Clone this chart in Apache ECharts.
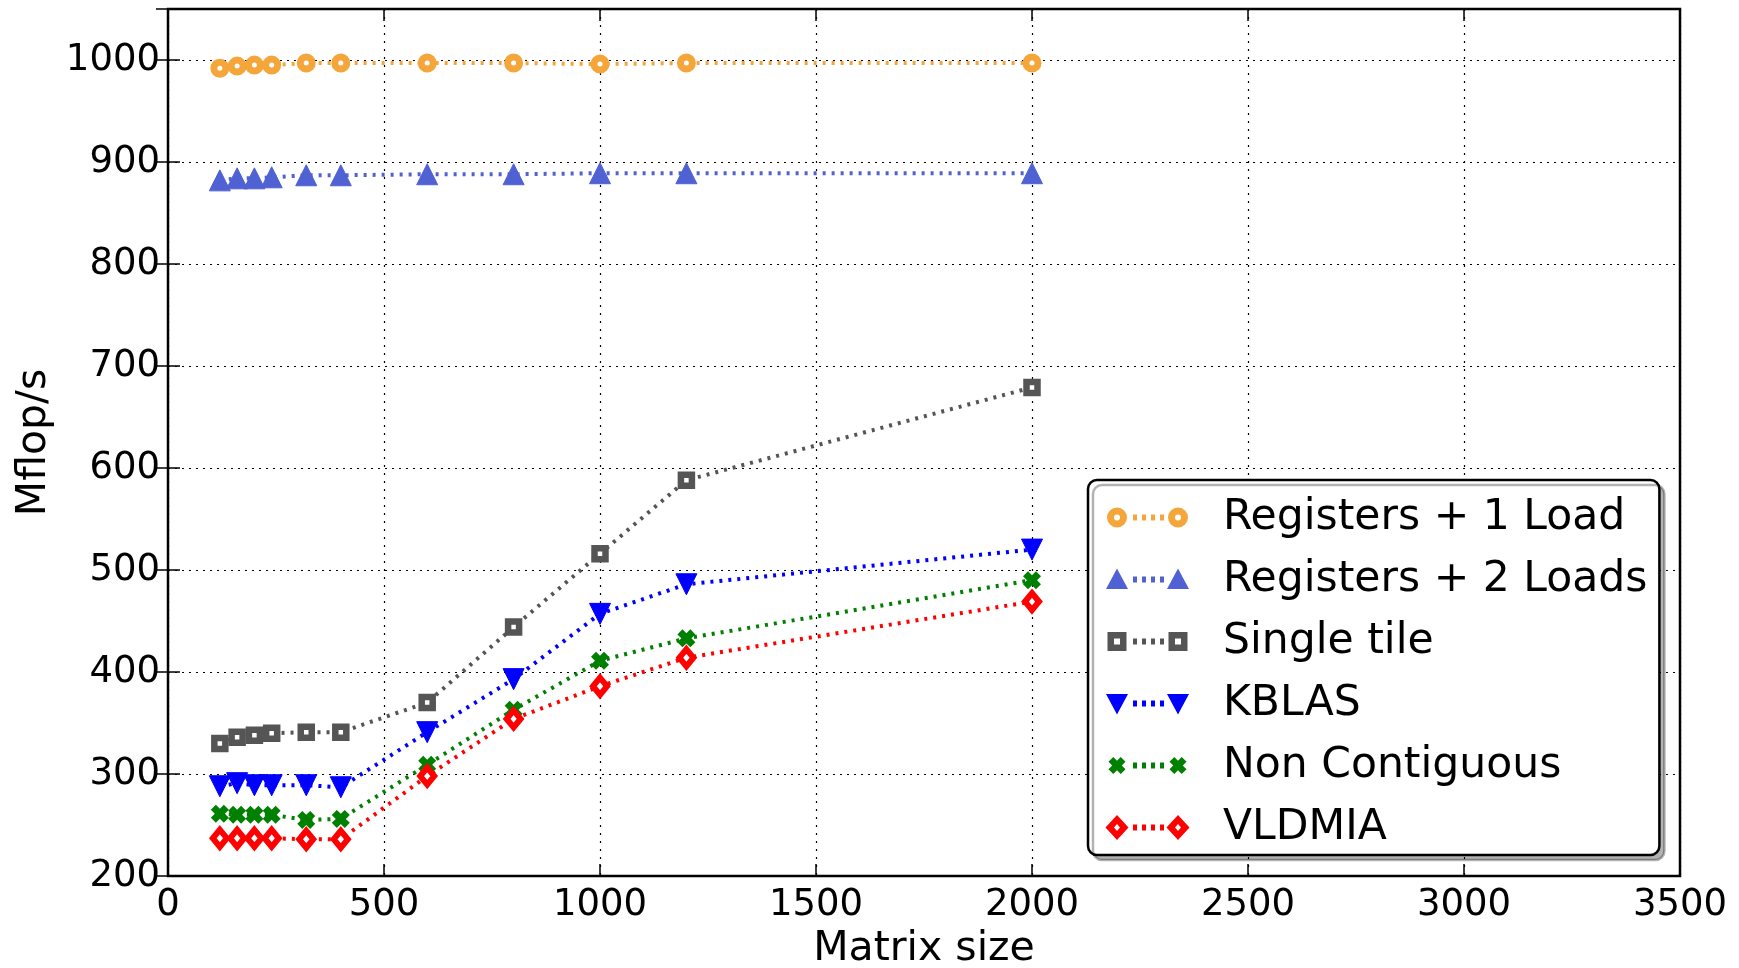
<!DOCTYPE html>
<html>
<head>
<meta charset="utf-8">
<script src="https://cdn.jsdelivr.net/npm/echarts@6/dist/echarts.min.js"></script>
<style>
html,body{margin:0;padding:0;background:#fff;}
#chart{width:1739px;height:968px;}
</style>
</head>
<body>
<div id="chart"></div>
<script>
const matrixSizes = [120, 160, 200, 240, 320, 400, 600, 800, 1000, 1200, 2000];
const registers1Load = [992, 994, 995, 995, 997, 997, 997, 997, 996, 997, 997];
const registers2Loads = [882, 884, 884, 885, 887, 887, 888, 888, 889, 889, 889];
const singleTile = [330, 336, 338, 340, 341, 341, 370, 444, 516, 588, 679];
const kblas = [288, 291, 289, 289, 289, 287, 341, 393, 457, 486, 520];
const nonContiguous = [261, 260, 260, 260, 255, 256, 309, 363, 411, 433, 490];
const vldmia = [237, 237, 237, 237, 236, 236, 298, 354, 386, 414, 469];
const seriesNames = ['Registers + 1 Load', 'Registers + 2 Loads', 'Single tile', 'KBLAS', 'Non Contiguous', 'VLDMIA'];
const colors = ['#F5A63A', '#5061D4', '#555555', '#0000FF', '#008000', '#FF0000'];

const FONT = 'DejaVu Sans';
const pairs = arr => matrixSizes.map((x, i) => [x, arr[i]]);
const xPath = 'path://M0,2.8 L2.8,0 L5,2.2 L7.2,0 L10,2.8 L7.8,5 L10,7.2 L7.2,10 L5,7.8 L2.8,10 L0,7.2 L2.2,5 Z';

// ---- legend icon shapes (two markers joined by a dotted line) ----
const IW = 86, IH = 26, CY = 13, L = 12, R = 73;
const corners = `M0,0 L0.01,0 L0,0.01 Z M${IW},${IH} L${IW - 0.01},${IH} L${IW},${IH - 0.01} Z `;
const dashes = [28, 37, 46, 55].map(x => `M${x},${CY - 3} L${x + 4},${CY - 3} L${x + 4},${CY + 3} L${x},${CY + 3} Z`).join(' ');
function ring(cx, ro, ri) {
  return `M${cx - ro},${CY} A${ro},${ro} 0 1,0 ${cx + ro},${CY} A${ro},${ro} 0 1,0 ${cx - ro},${CY} Z ` +
         `M${cx - ri},${CY} A${ri},${ri} 0 1,1 ${cx + ri},${CY} A${ri},${ri} 0 1,1 ${cx - ri},${CY} Z `;
}
function sqRing(cx, ho, hi) {
  return `M${cx - ho},${CY - ho} L${cx + ho},${CY - ho} L${cx + ho},${CY + ho} L${cx - ho},${CY + ho} Z ` +
         `M${cx - hi},${CY - hi} L${cx - hi},${CY + hi} L${cx + hi},${CY + hi} L${cx + hi},${CY - hi} Z `;
}
function diaRing(cx, wo, ho, wi, hi) {
  return `M${cx},${CY - ho} L${cx + wo},${CY} L${cx},${CY + ho} L${cx - wo},${CY} Z ` +
         `M${cx},${CY - hi} L${cx - wi},${CY} L${cx},${CY + hi} L${cx + wi},${CY} Z `;
}
function triUp(cx) { return `M${cx - 11},${CY + 9.5} L${cx + 11},${CY + 9.5} L${cx},${CY - 11} Z `; }
function triDown(cx) { return `M${cx - 11},${CY - 9.5} L${cx + 11},${CY - 9.5} L${cx},${CY + 11} Z `; }
function cross(cx) {
  const s = 1.7, o = (v, w) => `${cx + (v - 5) * s},${CY + (w - 5) * s}`;
  return `M${o(0,2.8)} L${o(2.8,0)} L${o(5,2.2)} L${o(7.2,0)} L${o(10,2.8)} L${o(7.8,5)} L${o(10,7.2)} L${o(7.2,10)} L${o(5,7.8)} L${o(2.8,10)} L${o(0,7.2)} L${o(2.2,5)} Z `;
}
const icons = [
  ring(L, 10, 3) + ring(R, 10, 3),
  triUp(L) + triUp(R),
  sqRing(L, 9.5, 3) + sqRing(R, 9.5, 3),
  triDown(L) + triDown(R),
  cross(L) + cross(R),
  diaRing(L, 11.5, 12.5, 3, 3.5) + diaRing(R, 11.5, 12.5, 3, 3.5)
].map(p => 'path://' + corners + p + dashes);

function mk(name, data, color, symbol, size, fill, borderWidth, rotate) {
  return {
    name: name, type: 'line', data: pairs(data),
    symbol: symbol, symbolSize: size, symbolRotate: rotate || 0,
    showAllSymbol: true,
    lineStyle: { color: color, width: 4, type: [3, 6] },
    itemStyle: { color: fill, borderColor: color, borderWidth: borderWidth },
    emphasis: { disabled: true },
    z: 3
  };
}

const chart = echarts.init(document.getElementById('chart'), null, { renderer: 'canvas' });
const xCommon = { type: 'value', min: 0, max: 3500, interval: 500 };
const yCommon = { type: 'value', min: 200, max: 1050, interval: 100 };
const tick = { show: true, inside: true, length: 12, lineStyle: { color: '#000', width: 1.5 } };
chart.setOption({
  animation: false,
  backgroundColor: '#fff',
  grid: { left: 168, right: 59, top: 9, bottom: 92, outerBoundsMode: 'none', containLabel: false,
          show: true, borderColor: '#000', borderWidth: 2.5, backgroundColor: 'transparent', z: 5 },
  xAxis: [
    Object.assign({}, xCommon, {
      position: 'bottom',
      name: 'Matrix size', nameLocation: 'middle', nameGap: 53,
      nameTextStyle: { fontFamily: FONT, fontSize: 41, color: '#000' },
      axisLine: { show: false },
      axisTick: tick,
      axisLabel: { fontFamily: FONT, fontSize: 37, color: '#000', margin: 11, formatter: v => String(v) },
      splitLine: { show: true, lineStyle: { color: '#000', width: 1.2, type: [2, 6] } }
    }),
    Object.assign({}, xCommon, {
      position: 'top',
      axisLine: { show: false }, axisTick: tick,
      axisLabel: { show: false }, splitLine: { show: false }
    })
  ],
  yAxis: [
    Object.assign({}, yCommon, {
      position: 'left',
      name: 'Mflop/s', nameLocation: 'middle', nameGap: 110,
      nameTextStyle: { fontFamily: FONT, fontSize: 41, color: '#000' },
      axisLine: { show: false },
      axisTick: tick,
      axisLabel: { fontFamily: FONT, fontSize: 37, color: '#000', margin: 8,
        formatter: v => (v % 100 === 0 ? String(v) : '') },
      splitLine: { show: true, lineStyle: { color: '#000', width: 1.2, type: [2, 5] } }
    }),
    Object.assign({}, yCommon, {
      position: 'right',
      axisLine: { show: false }, axisTick: tick,
      axisLabel: { show: false }, splitLine: { show: false }
    })
  ],
  legend: {
    data: seriesNames.map((n, i) => ({ name: n, icon: icons[i], itemStyle: { color: colors[i], borderWidth: 0 } })),
    orient: 'vertical',
    left: 1088, top: 480,
    padding: [16, 12, 6, 17],
    itemGap: 19,
    itemWidth: IW, itemHeight: IH,
    symbolKeepAspect: false,
    backgroundColor: '#fff',
    borderColor: '#000', borderWidth: 2.5, borderRadius: 9,
    shadowColor: 'rgba(0,0,0,0.3)', shadowBlur: 0, shadowOffsetX: 5, shadowOffsetY: 5,
    textStyle: { fontFamily: FONT, fontSize: 42.5, lineHeight: 42, color: '#000', padding: [0, 0, 0, 27] },
    selectedMode: false
  },
  series: [
    mk(seriesNames[0], registers1Load, colors[0], 'circle', 12, '#fff', 7),
    mk(seriesNames[1], registers2Loads, colors[1], 'triangle', 21, colors[1], 1),
    mk(seriesNames[2], singleTile, colors[2], 'rect', 11, '#fff', 6.5),
    mk(seriesNames[3], kblas, colors[3], 'triangle', 21, colors[3], 1, 180),
    mk(seriesNames[4], nonContiguous, colors[4], xPath, 18, colors[4], 0),
    mk(seriesNames[5], vldmia, colors[5], 'diamond', [14, 17], '#fff', 6)
  ]
});
</script>
</body>
</html>
